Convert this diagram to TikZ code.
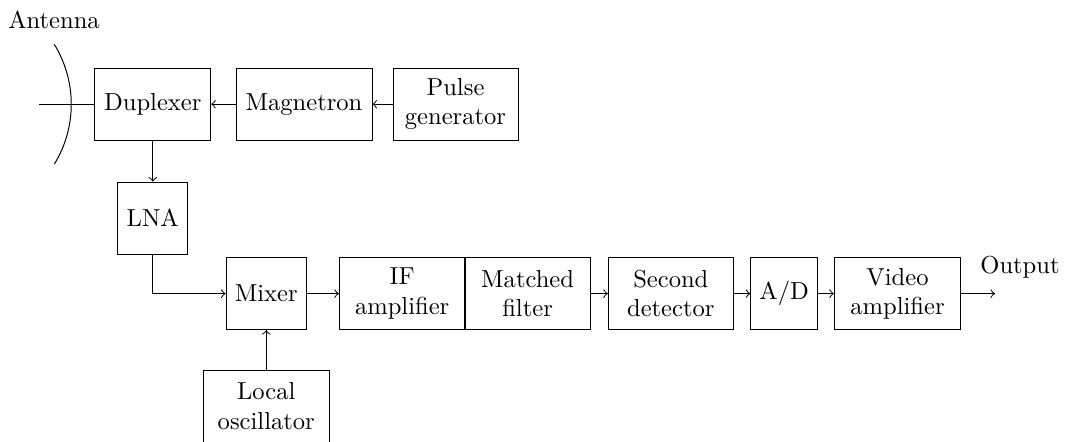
\documentclass[tikz,border=0pt]{standalone}
\newdimen\pxu
\pxu=0.407pt
\tikzset{
  box/.style={draw, inner sep=0pt, align=center, minimum height=72*\pxu},
  conn/.style={->},
}
\begin{document}
\begin{tikzpicture}[x=\pxu, y=-\pxu]
\useasboundingbox (0,0) rectangle (1065,441);
% top row
\node[box, minimum width=116*\pxu] (dup) at (152.8,104.2) {Duplexer};
\node[box, minimum width=136*\pxu] (mag) at (304,104.2) {Magnetron};
\node[box, minimum width=125*\pxu] (pulse) at (455.5,104.2) {Pulse\\generator};
% antenna
\coordinate (ant) at (39.3,104.2);
\node (antlabel) at (54,20) {Antenna};
\draw (54.3,44.3) arc[start angle=-31.6, end angle=31.6, radius=114.4];
\draw (ant) -- (dup.west);
% LNA
\node[box, minimum width=70*\pxu] (lna) at (152.8,218) {LNA};
% middle row
\node[box, minimum width=80.5*\pxu] (mix) at (266.3,293.6) {Mixer};
\node[box, minimum width=125.7*\pxu] (ifa) at (402.2,293.6) {IF\\amplifier};
\node[box, minimum width=125.3*\pxu] (mf) at (527.6,293.6) {Matched\\filter};
\node[box, minimum width=125*\pxu] (sd) at (670.8,293.6) {Second\\detector};
\node[box, minimum width=67*\pxu] (ad) at (784.2,293.6) {A/D};
\node[box, minimum width=126.4*\pxu] (va) at (897.5,293.6) {Video\\amplifier};
\coordinate (out) at (995,293.6);
\node (outlabel) at (1020,267) {Output};
% local oscillator
\node[box, minimum width=125.7*\pxu] (lo) at (266.3,406) {Local\\oscillator};
% connectors
\draw[conn] (mag.west) -- (dup.east);
\draw[conn] (pulse.west) -- (mag.east);
\draw[conn] (dup.south) -- (lna.north);
\draw[conn] (lna.south) |- (mix.west);
\draw[conn] (mix.east) -- (ifa.west);
\draw[conn] (mf.east) -- (sd.west);
\draw[conn] (sd.east) -- (ad.west);
\draw[conn] (ad.east) -- (va.west);
\draw[conn] (va.east) -- (out);
\draw[conn] (lo.north) -- (mix.south);
\end{tikzpicture}
\end{document}
